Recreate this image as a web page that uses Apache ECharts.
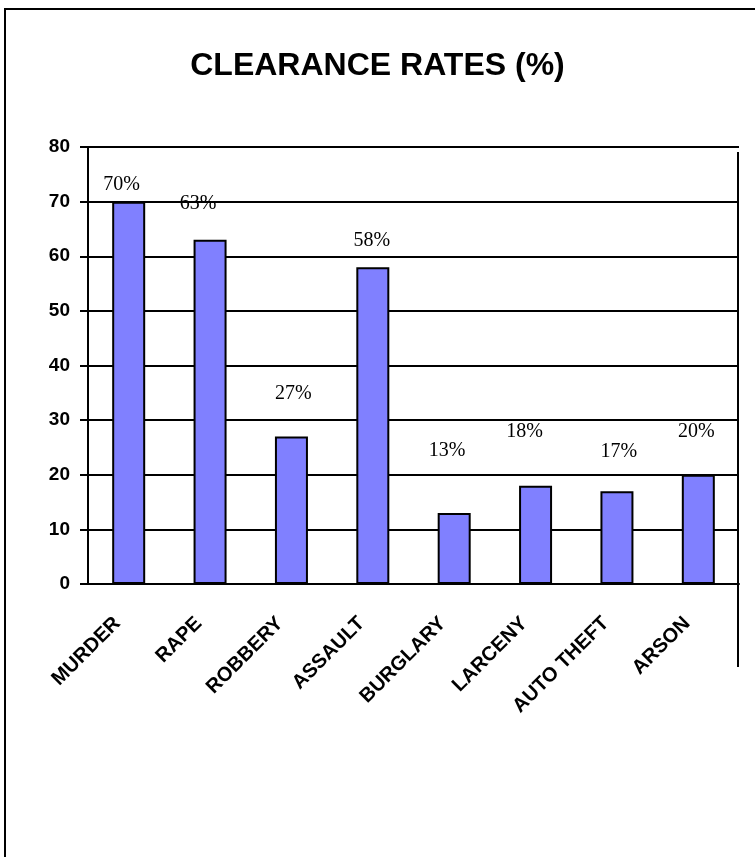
<!DOCTYPE html>
<html>
<head>
<meta charset="utf-8">
<script src="https://cdn.jsdelivr.net/npm/echarts@6/dist/echarts.min.js"></script>
<style>
  html, body { margin: 0; padding: 0; background: #fff; }
  #chart { width: 755px; height: 857px; }
</style>
</head>
<body>
<div id="chart"></div>
<script>
// clearance rates by offence (%)
var categories = ['MURDER', 'RAPE', 'ROBBERY', 'ASSAULT', 'BURGLARY', 'LARCENY', 'AUTO THEFT', 'ARSON']
var rates = [70, 63, 27, 58, 13, 18, 17, 20]

// the value labels in the original sit at uneven heights, nudge each one
var labelShift = [[-7, -7], [-12, -26], [2, -33], [-1, -16], [-7, -52], [-11, -44], [2, -29], [-2, -33]]

var chart = echarts.init(document.getElementById('chart'), null, { renderer: 'canvas' })

chart.setOption({
  animation: false,
  title: {
    text: 'CLEARANCE RATES (%)',
    left: 'center',
    top: 45,
    textStyle: {
      fontFamily: 'Liberation Sans, Arial, sans-serif',
      fontSize: 32,
      fontWeight: 'bold',
      color: '#000'
    }
  },
  grid: {
    left: 88,
    right: 16,
    top: 147,
    bottom: 273
  },
  xAxis: {
    type: 'category',
    data: categories,
    boundaryGap: true,
    axisLine: { lineStyle: { color: '#000', width: 2 } },
    axisTick: { length: 6, lineStyle: { color: '#000', width: 2 } },
    axisLabel: {
      interval: 0,
      rotate: 45,
      margin: 25,
      padding: [0, 16, 0, 0],
      fontFamily: 'Liberation Sans, Arial, sans-serif',
      fontSize: 20,
      fontWeight: 'bold',
      color: '#000'
    }
  },
  yAxis: {
    type: 'value',
    min: 0,
    max: 80,
    interval: 10,
    axisLine: { show: true, lineStyle: { color: '#000', width: 2 } },
    axisTick: { show: true, length: 8, lineStyle: { color: '#000', width: 2 } },
    splitLine: { lineStyle: { color: '#000', width: 2 } },
    axisLabel: {
      margin: 18,
      fontFamily: 'Liberation Sans, Arial, sans-serif',
      fontSize: 19,
      fontWeight: 'bold',
      color: '#000'
    }
  },
  series: [{
    type: 'bar',
    barWidth: 33,
    data: rates.map(function(v, i) {
      return {
        value: v,
        label: { offset: labelShift[i] }
      }
    }),
    itemStyle: {
      color: '#8080FF',
      borderColor: '#000',
      borderWidth: 2
    },
    label: {
      show: true,
      position: 'top',
      distance: 0,
      formatter: '{c}%',
      fontFamily: 'Liberation Serif, Times New Roman, serif',
      fontSize: 20,
      color: '#000'
    }
  }],
  graphic: [
    {
      // outer chart frame, only top and left edges are inside the picture
      type: 'rect',
      shape: { x: 5, y: 9, width: 900, height: 1000 },
      style: { fill: 'none', stroke: '#000', lineWidth: 2 },
      silent: true
    },
    {
      type: 'line',
      shape: { x1: 738, y1: 152, x2: 738, y2: 667 },
      style: { stroke: '#000', lineWidth: 2 },
      silent: true
    }
  ]
})
</script>
</body>
</html>
